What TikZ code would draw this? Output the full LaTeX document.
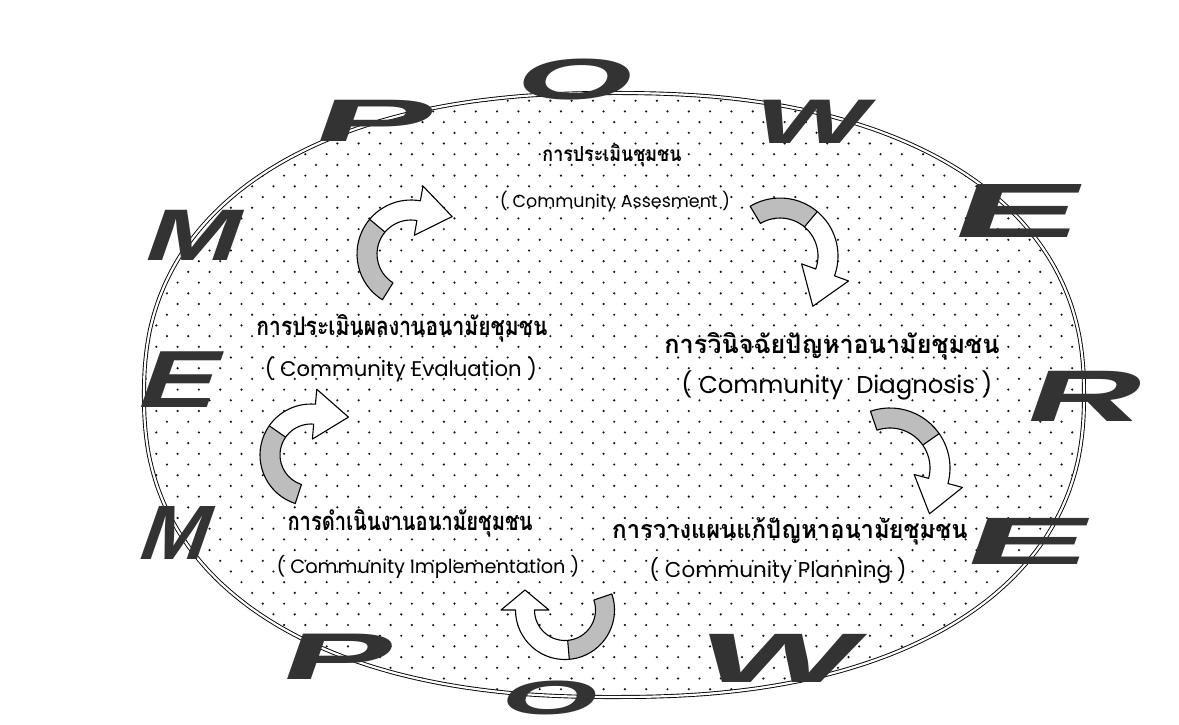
\documentclass[tikz,border=0pt]{standalone}
\usepackage{fontspec}
\usepackage{graphicx}
\setmainfont{Liberation Sans}
\newfontfamily\thaifont[Script=Thai]{Loma}
\newfontfamily\engfont{Poppins}
\newfontfamily\letfont{Liberation Sans}
\definecolor{lettc}{gray}{0.2}
\definecolor{arrg}{gray}{0.74}
\definecolor{dotc}{gray}{0.08}
\tikzset{
  bigL/.style={inner sep=0pt, text=lettc, xslant=0.35},
  thai/.style={inner sep=0pt, font=\thaifont\bfseries},
  eng/.style={inner sep=0pt, font=\engfont},
  arrline/.style={draw=black, line width=1.1pt, line join=round},
  ovalline/.style={draw=black, line width=0.9pt, double=white, double distance=2.2pt}
}
\def\ovalpath{plot[smooth cycle, domain=0.5:357.5, samples=120, variable=\t] ({614+470*sign(cos(\t))*abs(cos(\t))^(0.87)}, {395+302*sign(sin(\t))*abs(sin(\t))^(0.87)})}
% curved block arrow: #1 centre, #2 radius, #3 tail angle, #4 shade split angle,
% #5 head-base angle, #6 band width, #7 head half width, #8 head length, #9 sense (+1/-1)
\newcommand\carrow[9]{%
  \pgfmathsetmacro\ArO{#2+#6/2}%
  \pgfmathsetmacro\ArI{#2-#6/2}%
  \pgfmathsetmacro\ArHo{#2+#7}%
  \pgfmathsetmacro\ArHi{#2-#7}%
  \pgfmathsetmacro\ArTx{#2*cos(#5)+#8*cos(#5+#9*90)}%
  \pgfmathsetmacro\ArTy{#2*sin(#5)+#8*sin(#5+#9*90)}%
  \begin{scope}[shift={(#1)}]
    \path[fill=white] (#3:\ArO) arc[start angle=#3,end angle=#5,radius=\ArO] -- (#5:\ArHo) -- (\ArTx,\ArTy) -- (#5:\ArHi) -- (#5:\ArI) arc[start angle=#5,end angle=#3,radius=\ArI] -- cycle;
    \path[fill=arrg] (#3:\ArO) arc[start angle=#3,end angle=#4,radius=\ArO] -- (#4:\ArI) arc[start angle=#4,end angle=#3,radius=\ArI] -- cycle;
    \path[arrline] (#3:\ArO) arc[start angle=#3,end angle=#5,radius=\ArO] -- (#5:\ArHo) -- (\ArTx,\ArTy) -- (#5:\ArHi) -- (#5:\ArI) arc[start angle=#5,end angle=#3,radius=\ArI] -- cycle;
    \path[arrline] (#4:\ArO) -- (#4:\ArI);
  \end{scope}}
% big letter: #1 position, #2 name, #3 letter, #4 xscale, #5 font size
\newcommand\bigletter[5]{%
  \node[bigL, xscale=#4, font=\letfont\bfseries\fontsize{#5}{#5}\selectfont] (#2) at (#1) {#3};}
\begin{document}
\begin{tikzpicture}[x=1pt,y=-1pt]
\useasboundingbox (0,0) rectangle (1179,724);
\fill[white] (0,0) rectangle (1179,724);
% dotted fill
\begin{scope}
  \clip \ovalpath;
  \foreach \r in {0,...,57} {
    \pgfmathsetmacro\yy{90+\r*10.7}
    \pgfmathsetmacro\xo{mod(\r,2)*10.65}
    \fill[dotc] \foreach \c in {0,...,45} {({135+\xo+\c*21.3},\yy) circle (1.2)};
  }
\end{scope}
\path[ovalline] \ovalpath;
% arrows
\carrow{411,254}{44}{-238}{-140}{-80}{20}{25}{34}{1}
\carrow{780,256}{48}{-121}{-50}{20}{20}{25}{36}{1}
\carrow{890,468}{50}{-109}{-35}{15}{20}{25}{34}{1}
\carrow{565,610}{40}{-19}{85}{180}{19}{24}{20}{1}
\carrow{311,455}{41}{-252}{-145}{-85}{20}{25}{34}{1}
% texts
\node[thai] (t1) at (612,156) {\resizebox{139pt}{17pt}{การประเมินชุมชน}};
\node[eng] (e1) at (615,202) {\resizebox{230pt}{!}{( Community Assesment )}};
\node[thai] (t2) at (832,346) {\resizebox{335pt}{21pt}{การวินิจฉัยปัญหาอนามัยชุมชน}};
\node[eng] (e2) at (837,385) {\resizebox{311pt}{!}{( Community\ \ Diagnosis )}};
\node[thai] (t3) at (790,531) {\resizebox{355pt}{21pt}{การวางแผนแก้ปัญหาอนามัยชุมชน}};
\node[eng] (e3) at (778,570) {\resizebox{257pt}{!}{( Community Planning )}};
\node[thai] (t4) at (410,523) {\resizebox{245pt}{21pt}{การดำเนินงานอนามัยชุมชน}};
\node[eng] (e4) at (428,567) {\resizebox{303pt}{!}{( Community Implementation )}};
\node[thai] (t5) at (402,328) {\resizebox{291pt}{21pt}{การประเมินผลงานอนามัยชุมชน}};
\node[eng] (e5) at (401,369) {\resizebox{272pt}{!}{( Community Evaluation )}};
% EMPOWER letters
\bigletter{196,235}{lM1}{M}{1.55}{73}
\bigletter{376,121}{lP1}{P}{3.0}{60}
\bigletter{577,80}{lO1}{O}{2.6}{58}
\bigletter{813,122}{lW1}{W}{1.9}{63}
\bigletter{1020,211}{lE1}{E}{2.5}{77}
\bigletter{1087,396}{lR}{R}{2.2}{73}
\bigletter{1030,541}{lE2}{E}{2.8}{67}
\bigletter{780,658}{lW2}{W}{2.4}{70}
\bigletter{552,698}{lO2}{O}{2.6}{48}
\bigletter{339,657}{lP2}{P}{2.5}{66}
\bigletter{178,533}{lM2}{M}{1.05}{77}
\bigletter{182,380}{lE3}{E}{1.45}{81}
\end{tikzpicture}
\end{document}
